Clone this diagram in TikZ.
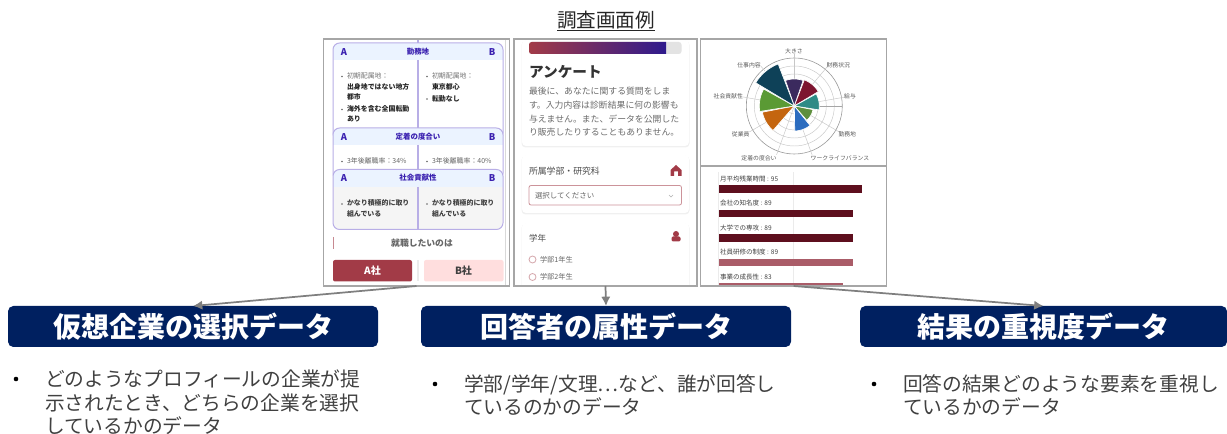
\documentclass[tikz,border=0pt]{standalone}
\usepackage{fontspec}
\setmainfont{Noto Sans CJK JP}
\usetikzlibrary{arrows.meta}
\newcounter{tcnt}
\definecolor{navy}{HTML}{002060}
\definecolor{arrowgray}{HTML}{7F7F7F}
\definecolor{panelgray}{HTML}{A6A6A6}
\definecolor{indigo}{HTML}{3A20B0}
\definecolor{cardline}{HTML}{B8AEE6}
\definecolor{cardhead}{HTML}{EBF3FF}
\definecolor{wine}{HTML}{5E0F1E}
\definecolor{rose}{HTML}{AA5C68}
\definecolor{crimson}{HTML}{A23B47}
\definecolor{wa}{HTML}{3B2A5E}
\definecolor{wb}{HTML}{7D1530}
\definecolor{wc}{HTML}{2E8B86}
\definecolor{wd}{HTML}{5E8F3E}
\definecolor{we}{HTML}{2B6CBF}
\definecolor{wf}{HTML}{C4650F}
\definecolor{wg}{HTML}{5A9A34}
\definecolor{wh}{HTML}{0E4158}
\newcommand{\T}[6][west]{\stepcounter{tcnt}\node[name=t\arabic{tcnt},anchor=#1,inner sep=0,outer sep=0,text=#5,text height={0.88*#4 pt},text depth={0.12*#4 pt},font=\fontsize{#4}{#4}\selectfont] at (#2,#3) {#6};}
\newcommand{\Wedge}[3]{\fill[#3,draw=white,line width=.5pt] (794.3,106) -- plot[domain=#1-19:#1+19,samples=12] ({794.3+#2*cos(\x)},{106+#2*sin(\x)}) -- cycle;}
\newcommand{\Card}[4]{\begin{scope}\clip[rounded corners=5pt] (333,#1) rectangle (503,#3);
\fill[#4] (333,#1) rectangle (503,#3);
\fill[cardhead] (333,#1) rectangle (503,#2);
\draw[cardline,line width=.9pt] (418,#2) -- (418,#3);
\end{scope}
\draw[cardline,line width=.75pt,rounded corners=5pt] (333,#1) rectangle (503,#3);}
\newcommand{\Whitecard}[2]{\fill[black!6,rounded corners=3pt] (521.5,#1+1) rectangle (689.5,#2+1.5);\fill[white,rounded corners=3pt] (522,#1) rectangle (689,#2);}
\newcommand{\Bar}[4]{\fill[#4] (718.7,#1) rectangle (#3,#2);}
\tikzset{
  panelbox/.style={draw=panelgray,line width=.9pt,inner sep=0,outer sep=0},
  headbox/.style={fill=navy,rounded corners=4pt,text=white,inner sep=0,outer sep=0,font=\fontsize{21}{21}\selectfont\bfseries,minimum height=30.75pt,minimum width=277.5pt},
  linkarrow/.style={draw=arrowgray,line width=1.3pt,-{Latex[length=7pt,width=7pt]}}
}
\begin{document}
\begin{tikzpicture}[x=0.75pt,y=-0.75pt]
\useasboundingbox (0,0) rectangle (1227,434);
% title
\T[center]{606}{20.5}{14.7}{black!85}{調査画面例}
\draw[black!85,line width=.6pt] (t1.south west) -- (t1.south east);

% panel 1
\draw[black!15,line width=.6pt] (505,39) -- (505,286);
\draw[cardline,line width=.9pt] (418,39) -- (418,43);
\Card{43}{60}{140}{white}
\T{347}{76}{5.2}{black!55}{初期配属地：}
\T{347}{86.5}{5.2}{black!85}{\bfseries 出身地ではない地方}
\T{347}{97}{5.2}{black!85}{\bfseries 都市}
\T{347}{109}{5.2}{black!85}{\bfseries 海外を含む全国転勤}
\T{347}{119}{5.2}{black!85}{\bfseries あり}
\T{432}{76}{5.2}{black!55}{初期配属地：}
\T{432}{86.5}{5.2}{black!85}{\bfseries 東京都心}
\T{432}{98.5}{5.2}{black!85}{\bfseries 転勤なし}
\foreach \p in {(342,76.5),(342,109.5),(427,76.5),(427,99)} \fill[black!60] \p circle[radius=.8];
\T[center]{418}{51.5}{5.6}{indigo}{\bfseries 勤務地}
\T[center]{344}{51.5}{7}{indigo}{\bfseries A}
\T[center]{492}{51.5}{7}{indigo}{\bfseries B}
\Card{128}{145}{180}{white}
\T{347}{161}{5.2}{black!60}{3年後離職率：34\%}
\T{432}{161}{5.2}{black!60}{3年後離職率：40\%}
\foreach \p in {(342,161.5),(427,161.5)} \fill[black!60] \p circle[radius=.8];
\T[center]{418}{136.5}{5.6}{indigo}{\bfseries 定着の度合い}
\T[center]{344}{136.5}{7}{indigo}{\bfseries A}
\T[center]{492}{136.5}{7}{indigo}{\bfseries B}
\Card{169.5}{187}{229.5}{black!4}
\T{347}{203}{5.2}{black!75}{\bfseries かなり積極的に取り}
\T{347}{213.5}{5.2}{black!75}{\bfseries 組んでいる}
\T{432}{203}{5.2}{black!75}{\bfseries かなり積極的に取り}
\T{432}{213.5}{5.2}{black!75}{\bfseries 組んでいる}
\foreach \p in {(342,204),(427,204)} \fill[black!60] \p circle[radius=.8];
\T[center]{418}{178}{5.6}{indigo}{\bfseries 社会貢献性}
\T[center]{344}{178}{7}{indigo}{\bfseries A}
\T[center]{492}{178}{7}{indigo}{\bfseries B}
\draw[crimson!60,line width=.6pt] (333.5,237) -- (333.5,249);
\T[center]{422}{243}{6.6}{black!60}{\bfseries 就職したいのは}
\draw[black!8,line width=.9pt] (418,260) -- (418,281);
\fill[crimson,rounded corners=1.5pt] (333,260) rectangle (412,281.5);
\fill[red!13!white,rounded corners=1.5pt] (424,260) rectangle (503.5,281.5);
\T[center]{372.5}{271}{7.5}{white}{\bfseries A社}
\T[center]{463.5}{271}{7.5}{black!75}{\bfseries B社}

% panel 2
\Whitecard{40}{146}
\fill[black!11,rounded corners=2pt] (529,42) rectangle (681.5,54);
\shade[left color=crimson,right color=indigo!80!black,rounded corners=2pt] (666,54) -- (529,54) -- (529,42) [sharp corners] -- (666,42) -- cycle;
\T{529}{72}{11}{black!80}{\bfseries アンケート}
\T{529}{91}{6.64}{black!58}{最後に、あなたに関する質問をしま}
\T{529}{105}{6.64}{black!58}{す。入力内容は診断結果に何の影響も}
\T{529}{119}{6.64}{black!58}{与えません。また、データを公開した}
\T{529}{132}{6.64}{black!58}{り販売したりすることもありません。}
\Whitecard{155}{213}
\T{529}{171}{6.64}{black!70}{所属学部・研究科}
\fill[crimson] (670.5,176) -- (670.5,170) -- (676,165) -- (681.5,170) -- (681.5,176) -- (678,176) -- (678,171.5) -- (674,171.5) -- (674,176) -- cycle;
\draw[crimson!55,line width=.6pt,rounded corners=1.5pt,fill=white] (529,185.5) rectangle (681.5,205);
\T{535}{195.5}{5.6}{black!60}{選択してください}
\draw[black!30,line width=.4pt] (669,195) -- (671,197) -- (673,195);
\Whitecard{223}{292}
\T{529}{238}{6.4}{black!70}{学年}
\fill[crimson] (676,234) circle[radius=3];
\fill[crimson,rounded corners=1pt] (671.5,241.5) rectangle (680.5,236.5);
\draw[crimson!45,line width=.6pt] (532.5,259.5) circle[radius=3.5];
\T{540}{260}{5.4}{black!60}{学部1年生}
\draw[crimson!45,line width=.6pt] (532.5,277) circle[radius=3.5];
\T{540}{277}{5.4}{black!60}{学部2年生}
\fill[white] (510,286.5) rectangle (700,300);

% panel 3: polar chart
\foreach \r in {8,16,24,32,40} \draw[black!22,line width=.35pt] (794.3,106) circle[radius=\r];
\draw[black!40,line width=.45pt] (794.3,106) circle[radius=48];
\foreach \a in {-90,-50,-10,30,70,110,150,190,230} \draw[black!22,line width=.35pt] (794.3,106) -- ({794.3+52*cos(\a)},{106+52*sin(\a)});
\draw[black!35,line width=.45pt] (794.3,106) -- (842.3,106);
\Wedge{-90}{27}{wa}
\Wedge{-50}{28}{wb}
\Wedge{-10}{25}{wc}
\Wedge{30}{19}{wd}
\Wedge{70}{25}{we}
\Wedge{150}{32.5}{wf}
\Wedge{190}{35}{wg}
\Wedge{230}{45}{wh}
\T[center]{794}{51.7}{4.4}{black!65}{大きさ}
\T[center]{838.3}{65}{4.4}{black!65}{財務状況}
\T[center]{850}{96.7}{4.4}{black!65}{給与}
\T[center]{847.3}{134.3}{4.4}{black!65}{勤務地}
\T[center]{840}{158.3}{4.4}{black!65}{ワークライフバランス}
\T[center]{759}{158.3}{4.4}{black!65}{定着の度合い}
\T[center]{740.7}{134.3}{4.4}{black!65}{従業員}
\T[center]{728.3}{96.7}{4.4}{black!65}{社会貢献性}
\T[center]{749}{65}{4.4}{black!65}{仕事内容}
% panel 3: bars
\draw[black!8,line width=.4pt] (718.7,172) -- (718.7,285);
\draw[black!8,line width=.4pt] (793,172) -- (793,285);
\Bar{185.3}{192.7}{861.7}{wine}
\Bar{210}{217}{852.7}{wine}
\Bar{234.3}{241.7}{852.7}{wine}
\Bar{259}{266}{852.7}{rose}
\Bar{283.3}{285.7}{843.3}{rose}
\T{720}{178.7}{4.9}{black!75}{月平均残業時間 : 95}
\T{720}{203.3}{4.9}{black!75}{会社の知名度 : 89}
\T{720}{227.7}{4.9}{black!75}{大学での専攻 : 89}
\T{720}{251.7}{4.9}{black!75}{社員研修の制度 : 89}
\T{720}{276.7}{4.9}{black!75}{事業の成長性 : 83}
\draw[panelgray,line width=.9pt] (700.5,166) -- (886.7,166);

% panel frames
\node[panelbox,minimum width=139pt,minimum height=185.25pt] (p1) at (416.5,162.5) {};
\node[panelbox,minimum width=137.25pt,minimum height=185.25pt] (p2) at (605.5,162.5) {};
\node[panelbox,minimum width=139.65pt,minimum height=185.25pt] (p3) at (793.6,162.5) {};

% headers
\node[headbox] (h1) at (193,326.5) {仮想企業の選択データ};
\node[headbox] (h2) at (606,326.5) {回答者の属性データ};
\node[headbox,minimum width=275.25pt] (h3) at (1043.5,326.5) {結果の重視度データ};
\draw[linkarrow] (p1.south) -- (h1.north);
\draw[linkarrow] (p2.south) -- (h2.north);
\draw[linkarrow] (p3.south) -- (h3.north);

% body text
\fill[black] (16,379) circle[radius=2.3];
\T{45}{379}{14.8}{black!75}{どのようなプロフィールの企業が提}
\T{45}{403}{14.8}{black!75}{示されたとき、どちらの企業を選択}
\T{45}{426}{14.8}{black!75}{しているかのデータ}
\fill[black] (435,384) circle[radius=2.3];
\T{464}{384}{14.8}{black!75}{学部/学年/文理⋯など、誰が回答し}
\T{464}{407}{14.8}{black!75}{ているのかのデータ}
\fill[black] (874,384) circle[radius=2.3];
\T{903}{384}{14.8}{black!75}{回答の結果どのような要素を重視し}
\T{903}{407}{14.8}{black!75}{ているかのデータ}
\end{tikzpicture}
\end{document}
